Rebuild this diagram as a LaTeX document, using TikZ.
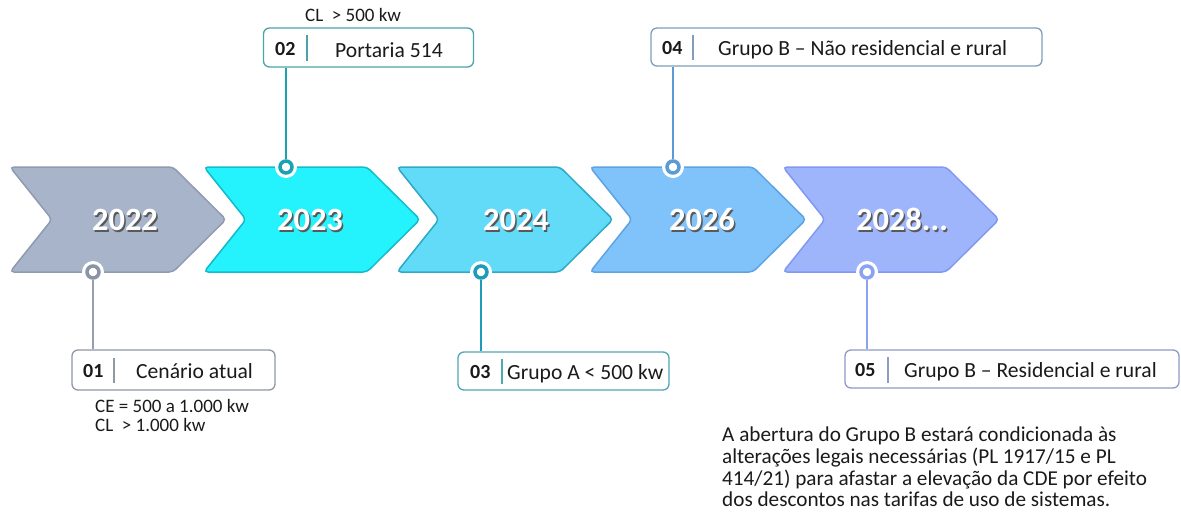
\documentclass[tikz,border=0pt]{standalone}
\usepackage{fontspec}
\setmainfont{Carlito}
\definecolor{c22f}{HTML}{A8B4CA}\definecolor{c22d}{HTML}{8F9BB0}
\definecolor{c23f}{HTML}{24F2FC}\definecolor{c23d}{HTML}{14BCCB}
\definecolor{c24f}{HTML}{62DBF9}\definecolor{c24d}{HTML}{2EAAC8}
\definecolor{c26f}{HTML}{80C3FA}\definecolor{c26d}{HTML}{5EA3E2}
\definecolor{c28f}{HTML}{9EB5FB}\definecolor{c28d}{HTML}{8299F0}
\definecolor{r22}{HTML}{8A94A6}\definecolor{r23}{HTML}{19A3B2}
\definecolor{r24}{HTML}{1C9CB8}\definecolor{r26}{HTML}{5B9BD3}
\definecolor{r28}{HTML}{8AA2F2}
\definecolor{b01}{HTML}{9098A4}\definecolor{b02}{HTML}{4BA3A8}
\definecolor{b03}{HTML}{4FA6B4}\definecolor{b04}{HTML}{7E9EBC}
\definecolor{b05}{HTML}{8E9BC4}
\definecolor{txt}{HTML}{1A1A1A}
\newcommand{\chev}[3]{%
  \draw[fill=#2,draw=#3,line width=1.5pt,rounded corners=4pt]
    (#1,167) -- ({#1+163},167) -- ({#1+216},219.5) -- ({#1+163},272)
    -- (#1,272) -- ({#1+42},219.5) -- cycle;}
\begin{document}
\begin{tikzpicture}[x=1pt,y=-1pt,
  boxst/.style={draw,rounded corners=6pt,line width=1.3pt,fill=white,inner sep=0pt},
  numst/.style={font=\fontsize{20}{24}\selectfont\bfseries,text=txt,inner sep=0pt,anchor=base west},
  lblst/.style={font=\fontsize{21.6}{25}\selectfont,text=txt,inner sep=0pt,anchor=base west},
  notest/.style={font=\fontsize{19}{22}\selectfont,text=txt,inner sep=0pt,anchor=base west},
  yearst/.style={font=\fontsize{32.5}{38}\selectfont\bfseries,text=white,inner sep=0pt},
  yshad/.style={font=\fontsize{32.5}{38}\selectfont\bfseries,text=black!65,inner sep=0pt},
  halo/.style={circle,fill=white,minimum size=22pt,inner sep=0pt},
  ring/.style={circle,fill=white,line width=3.5pt,minimum size=12pt,inner sep=0pt},
  divst/.style={line width=1.3pt},
  conn/.style={line width=1.5pt}]
\useasboundingbox (0,0) rectangle (1181,517);
% chevrons
\chev{10}{c22f}{c22d}
\chev{204}{c23f}{c23d}
\chev{397}{c24f}{c24d}
\chev{590}{c26f}{c26d}
\chev{783}{c28f}{c28d}
% years
\node[yshad] (y22s) at (126.5,221.5) {2022};
\node[yearst] (y22) at (125,219.5) {2022};
\node[yshad] (y23s) at (311.5,221.5) {2023};
\node[yearst] (y23) at (310,219.5) {2023};
\node[yshad] (y24s) at (517.5,221.5) {2024};
\node[yearst] (y24) at (516,219.5) {2024};
\node[yshad] (y26s) at (703.5,221.5) {2026};
\node[yearst] (y26) at (702,219.5) {2026};
\node[yshad] (y28s) at (903.5,221.5) {2028...};
\node[yearst] (y28) at (902,219.5) {2028...};
% dots
\node[halo] (h22) at (93,272) {};
\node[ring,draw=r22] (d22) at (93,272) {};
\node[halo] (h23) at (286,167) {};
\node[ring,draw=r23] (d23) at (286,167) {};
\node[halo] (h24) at (481,272) {};
\node[ring,draw=r24] (d24) at (481,272) {};
\node[halo] (h26) at (673,167) {};
\node[ring,draw=r26] (d26) at (673,167) {};
\node[halo] (h28) at (867,272) {};
\node[ring,draw=r28] (d28) at (867,272) {};
% boxes
\node[boxst,draw=b01,minimum width=203pt,minimum height=40pt] (bx01) at (173.5,370) {};
\node[boxst,draw=b02,minimum width=210pt,minimum height=39pt] (bx02) at (368.5,47.5) {};
\node[boxst,draw=b03,minimum width=211pt,minimum height=38pt] (bx03) at (563.5,371) {};
\node[boxst,draw=b04,minimum width=391pt,minimum height=38pt] (bx04) at (846.5,47) {};
\node[boxst,draw=b05,minimum width=334pt,minimum height=38pt] (bx05) at (1012,369) {};
% connectors
\draw[conn,draw=r22!90] (d22.south) -- (bx01.north -| d22.south);
\draw[conn,draw=r23] (d23.north) -- (bx02.south -| d23.north);
\draw[conn,draw=r24] (d24.south) -- (bx03.north -| d24.south);
\draw[conn,draw=r26] (d26.north) -- (bx04.south -| d26.north);
\draw[conn,draw=r28] (d28.south) -- (bx05.north -| d28.south);
% box contents
\node[numst] (n01) at (83,377) {01};
\draw[divst,draw=b01] (114,358) -- (114,383);
\node[lblst] (t01) at (136,378) {Cenário atual};
\node[numst] (n02) at (275,55) {02};
\draw[divst,draw=b02] (307,35) -- (307,61);
\node[lblst] (t02) at (335,57) {Portaria 514};
\node[numst] (n03) at (470,378) {03};
\draw[divst,draw=b03] (502,359) -- (502,384);
\node[lblst] (t03) at (507,379) {Grupo A < 500 kw};
\node[numst] (n04) at (662,54) {04};
\draw[divst,draw=b04] (693,35) -- (693,60);
\node[lblst] (t04) at (718,55) {Grupo B – Não residencial e rural};
\node[numst] (n05) at (855,376) {05};
\draw[divst,draw=b05] (888,357) -- (888,383);
\node[lblst] (t05) at (904,377) {Grupo B – Residencial e rural};
% notes
\node[notest] (nt02) at (305,21) {CL \ > 500 kw};
\node[notest] (nt01a) at (95,412) {CE = 500 a 1.000 kw};
\node[notest] (nt01b) at (95,431) {CL \ > 1.000 kw};
\node[anchor=north west,inner sep=0pt,align=left,text=txt,
  font=\fontsize{21.2}{21.6}\selectfont] (para) at (722,427)
  {A abertura do Grupo B estará condicionada às\\
   alterações legais necessárias (PL 1917/15 e PL\\
   414/21) para afastar a elevação da CDE por efeito\\
   dos descontos nas tarifas de uso de sistemas.};
\end{tikzpicture}
\end{document}
